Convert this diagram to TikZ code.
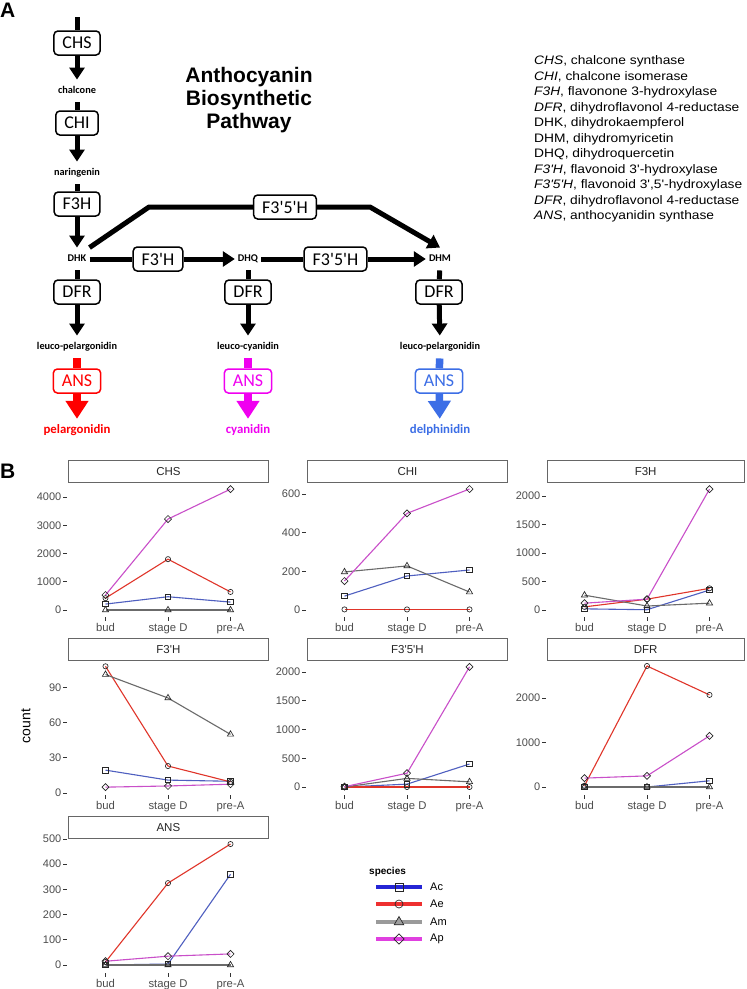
\documentclass[tikz,border=0pt]{standalone}
\usepackage{fontspec}
\setmainfont{Liberation Sans}
\newfontfamily\pathfont{Carlito}
\newfontfamily\deffont[FakeStretch=1.12]{Liberation Sans}
\usetikzlibrary{arrows.meta, backgrounds, plotmarks}
\definecolor{pelred}{HTML}{FF0000}
\definecolor{cyamag}{HTML}{F000F0}
\definecolor{delblue}{HTML}{3C6EE6}
\definecolor{acl}{HTML}{4F5FC0}
\definecolor{ael}{HTML}{E0352A}
\definecolor{aml}{HTML}{6B6B6B}
\definecolor{apl}{HTML}{C94FC9}
\definecolor{ack}{HTML}{2525D5}
\definecolor{aek}{HTML}{EE3030}
\definecolor{amk}{HTML}{9A9A9A}
\definecolor{apk}{HTML}{E040E0}
\definecolor{axtxt}{HTML}{4D4D4D}
\definecolor{tickgray}{HTML}{333333}
\definecolor{stripline}{HTML}{666666}

% one facet: name, title, left x, strip top, y of zero, px per count, ticks
\newcommand\facet[7]{%
  \def\panx{#3}\def\pany{#5}\def\pank{#6}%
  \node[strip] (s#1) at (#3,#4) {#2};
  \foreach \tv in {#7} {
    \draw[tk] ({#3-5},{#5-\tv*#6}) -- ({#3-1.5},{#5-\tv*#6});
    \node[ylab] (y#1\tv) at ({#3-6.5},{#5-\tv*#6}) {\tv};
  }
  \foreach \xo/\lab [count=\nn] in {37.5/bud,100/stage D,162.5/pre-A} {
    \draw[tk] ({#3+\xo},{#4+157}) -- ++(0,3.5);
    \node[xlab] (x#1\nn) at ({#3+\xo},{#4+171}) {\lab};
  }
}
% one species: bud, stage D, pre-A
\newcommand\trend[4]{%
  \begin{scope}[on background layer]
    \draw[l#1] ({\panx+37.5},{\pany-(#2)*\pank}) -- ({\panx+100},{\pany-(#3)*\pank}) -- ({\panx+162.5},{\pany-(#4)*\pank});
  \end{scope}
  \draw[pts, m#1] plot coordinates {({\panx+37.5},{\pany-(#2)*\pank}) ({\panx+100},{\pany-(#3)*\pank}) ({\panx+162.5},{\pany-(#4)*\pank})};
}
\newcommand\keyrow[3]{%
  \draw[k#1] (376,#2) -- (422,#2);
  \draw[pts, m#1, #3] plot coordinates {(399,#2)};
  \node[keylab] (lk#1) at (430,#2) {#1};
}
\def\stripw{200}

\begin{document}
\begin{tikzpicture}[x=1pt, y=-1pt,
    enz/.style={draw, line width=1.5pt, rounded corners=4pt, fill=white,
                minimum height=24pt, inner xsep=8.5pt, inner ysep=3pt,
                font=\pathfont\fontsize{18}{20}\selectfont},
    ans/.style={enz, draw=#1, text=#1},
    met/.style={inner xsep=3pt, inner ysep=7pt, text height=7pt, text depth=1.5pt,
                font=\pathfont\bfseries\fontsize{10.3}{12}\selectfont},
    prod/.style={inner xsep=3pt, inner ysep=5pt, text height=9pt, text depth=3pt,
                 text=#1, font=\pathfont\bfseries\fontsize{12.8}{15}\selectfont},
    lin/.style={line width=5pt, line join=round},
    arr/.style={lin, -{Triangle[width=15pt,length=12pt]}},
    clin/.style={line width=7.5pt, draw=#1},
    carr/.style={clin=#1, -{Triangle[width=22pt,length=18pt]}},
    ttl/.style={anchor=north, align=center, inner sep=0pt,
                font=\bfseries\fontsize{21}{23}\selectfont},
    deftxt/.style={anchor=base west, inner sep=0pt, font=\deffont\fontsize{12.3}{15}\selectfont},
    strip/.style={draw=stripline, line width=0.8pt, fill=white, anchor=north west,
                  minimum width=\stripw pt, minimum height=22pt, inner sep=0pt,
                  text=black!85, font=\fontsize{11.5}{13}\selectfont},
    tk/.style={draw=tickgray, line width=0.9pt},
    ylab/.style={anchor=east, inner sep=0pt, text=axtxt, font=\fontsize{11}{13}\selectfont},
    xlab/.style={anchor=base, inner sep=0pt, text=axtxt, font=\fontsize{11.3}{13}\selectfont},
    lAc/.style={draw=acl, line width=1.1pt, line join=round},
    lAe/.style={draw=ael, line width=1.1pt, line join=round},
    lAm/.style={draw=aml, line width=1.1pt, line join=round},
    lAp/.style={draw=apl, line width=1.1pt, line join=round},
    pts/.style={only marks, every mark/.append style={draw=black!85, line width=0.65pt}},
    mAc/.style={mark=square, mark size=2.7pt},
    mAe/.style={mark=o, mark size=2.6pt},
    mAm/.style={mark=triangle, mark size=3.6pt},
    mAp/.style={mark=square, mark size=2.5pt, every mark/.append style={rotate=45}},
    kAc/.style={draw=ack, line width=4.5pt},
    kAe/.style={draw=aek, line width=4.5pt},
    kAm/.style={draw=amk, line width=4.5pt},
    kAp/.style={draw=apk, line width=4.5pt},
    keylab/.style={anchor=west, inner sep=0pt, font=\fontsize{11}{13}\selectfont}
]
    \begin{scope}[on background layer]
        \fill[white] (0,0) rectangle (747,989);
    \end{scope}
    \useasboundingbox (0,0) rectangle (747,989);

    % panel A: pathway
    \node[anchor=base west, inner sep=0pt, font=\bfseries\fontsize{21}{24}\selectfont] (lblA) at (0,17) {A};
    \node[ttl] (title) at (249,66.7) {Anthocyanin\\Biosynthetic\\Pathway};

    \coordinate (entry) at (77,17);
    \node[enz] (chs) at (77,43) {CHS};
    \node[met] (chal) at (77,91) {chalcone};
    \node[enz] (chi) at (77,123) {CHI};
    \node[met] (nar) at (77,173) {naringenin};
    \node[enz] (f3h) at (77,204) {F3H};
    \node[met] (dhk) at (77,259) {DHK};
    \node[enz] (f3p) at (158,259) {F3'H};
    \node[met] (dhq) at (248,259) {DHQ};
    \node[enz] (f35b) at (335.5,259) {F3'5'H};
    \node[met] (dhm) at (440,259) {DHM};
    \node[enz] (f35a) at (285,207) {F3'5'H};
    \coordinate (kneeL) at (149,207);
    \coordinate (kneeR) at (370,207);

    \node[enz] (dfr1) at (77,292) {DFR};
    \node[enz] (dfr2) at (248,292) {DFR};
    \node[enz] (dfr3) at (439,292) {DFR};
    \node[met] (leu1) at (77,347) {leuco-pelargonidin};
    \node[met] (leu2) at (248,347) {leuco-cyanidin};
    \node[met] (leu3) at (440,347) {leuco-pelargonidin};
    \node[ans=pelred] (ans1) at (77,381) {ANS};
    \node[ans=cyamag] (ans2) at (248,381) {ANS};
    \node[ans=delblue] (ans3) at (439,381) {ANS};
    \node[prod=pelred] (pel) at (77,430) {pelargonidin};
    \node[prod=cyamag] (cya) at (248,430) {cyanidin};
    \node[prod=delblue] (del) at (440,430) {delphinidin};

    \draw[lin] (entry) -- (chs);
    \draw[arr] (chs) -- (chal);
    \draw[lin] (chal) -- (chi);
    \draw[arr] (chi) -- (nar);
    \draw[lin] (nar) -- (f3h);
    \draw[arr] (f3h) -- (dhk);
    \draw[lin] (dhk) -- (f3p);
    \draw[arr] (f3p) -- (dhq);
    \draw[lin] (dhq) -- (f35b);
    \draw[arr] (f35b) -- (dhm);
    \draw[lin] (dhk.north east) -- (kneeL) -- (f35a);
    \draw[arr] (f35a) -- (kneeR) -- (dhm.north);
    \draw[lin] (dhk) -- (dfr1);
    \draw[lin] (dhq) -- (dfr2);
    \draw[lin] (dhm) -- (dfr3);
    \draw[arr] (dfr1) -- (leu1);
    \draw[arr] (dfr2) -- (leu2);
    \draw[arr] (dfr3) -- (leu3);
    \draw[clin=pelred] (leu1) -- (ans1);
    \draw[clin=cyamag] (leu2) -- (ans2);
    \draw[clin=delblue] (leu3) -- (ans3);
    \draw[carr=pelred] (ans1) -- (pel);
    \draw[carr=cyamag] (ans2) -- (cya);
    \draw[carr=delblue] (ans3) -- (del);

    % abbreviations
    \foreach \txt [count=\i] in {%
        {\textit{CHS}, chalcone synthase},
        {\textit{CHI}, chalcone isomerase},
        {\textit{F3H}, flavonone 3-hydroxylase},
        {\textit{DFR}, dihydroflavonol 4-reductase},
        {DHK, dihydrokaempferol},
        {DHM, dihydromyricetin},
        {DHQ, dihydroquercetin},
        {\textit{F3'H}, flavonoid 3'-hydroxylase},
        {\textit{F3'5'H}, flavonoid 3',5'-hydroxylase},
        {\textit{DFR}, dihydroflavonol 4-reductase},
        {\textit{ANS}, anthocyanidin synthase}}
        \node[deftxt] (def\i) at (534,{64.7+(\i-1)*15.5}) {\txt};

    % panel B: counts
    \node[anchor=base west, inner sep=0pt, font=\bfseries\fontsize{21}{24}\selectfont] (lblB) at (0,478) {B};
    \node[rotate=90, inner sep=0pt, font=\fontsize{14}{16}\selectfont] (count) at (26,726) {count};

    \facet{CHS}{CHS}{68}{460}{610}{0.02825}{0,1000,2000,3000,4000}
    \trend{Ac}{210}{470}{280}
    \trend{Ae}{420}{1800}{640}
    \trend{Am}{0}{0}{0}
    \trend{Ap}{530}{3220}{4280}

    \facet{CHI}{CHI}{307}{460}{610}{0.1933}{0,200,400,600}
    \trend{Ac}{72}{176}{207}
    \trend{Ae}{3}{3}{3}
    \trend{Am}{197}{228}{93}
    \trend{Ap}{150}{500}{626}

    \def\stripw{196.5}
    \facet{F3H}{F3H}{547}{460}{610}{0.057}{0,500,1000,1500,2000}
    \trend{Ac}{20}{5}{350}
    \trend{Ae}{55}{190}{380}
    \trend{Am}{260}{70}{120}
    \trend{Ap}{120}{190}{2120}
    \def\stripw{200}

    \facet{F3pH}{F3\textquotesingle H}{68}{638}{793}{1.173}{0,30,60,90}
    \trend{Ac}{19.5}{11}{10}
    \trend{Ae}{108}{23}{9.5}
    \trend{Am}{101}{81}{50}
    \trend{Ap}{5}{6}{7.5}

    \facet{F35H}{F3\textquotesingle 5\textquotesingle H}{307}{638}{787}{0.0575}{0,500,1000,1500,2000}
    \trend{Ac}{0}{50}{400}
    \trend{Ae}{0}{0}{0}
    \trend{Am}{0}{150}{90}
    \trend{Ap}{5}{240}{2090}

    \def\stripw{196.5}
    \facet{DFR}{DFR}{547}{638}{787}{0.0445}{0,1000,2000}
    \trend{Ac}{0}{0}{140}
    \trend{Ae}{30}{2720}{2070}
    \trend{Am}{0}{0}{0}
    \trend{Ap}{200}{250}{1150}
    \def\stripw{200}

    \facet{ANS}{ANS}{68}{816}{965}{0.252}{0,100,200,300,400,500}
    \trend{Ac}{0}{4}{360}
    \trend{Ae}{12}{325}{480}
    \trend{Am}{0}{0}{0}
    \trend{Ap}{15}{35}{44}

    % legend
    \node[anchor=base west, inner sep=0pt, font=\bfseries\fontsize{10}{12}\selectfont] (spec) at (369,874) {species};
    \keyrow{Ac}{887}{mark size=4pt}
    \keyrow{Ae}{904}{mark size=4pt}
    \keyrow{Am}{922}{mark=triangle*, mark size=5.5pt, every mark/.append style={fill=gray!75}}
    \keyrow{Ap}{939}{mark size=3.6pt}
\end{tikzpicture}
\end{document}
